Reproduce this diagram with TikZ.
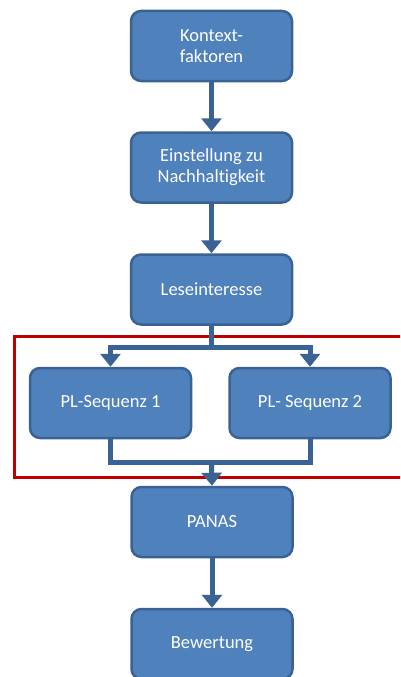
\documentclass[tikz,border=0pt]{standalone}
\usepackage{fontspec}
\setmainfont[Ligatures=NoCommon]{Carlito}
\usetikzlibrary{arrows.meta}
\definecolor{boxfill}{HTML}{4F81BD}
\definecolor{boxedge}{HTML}{3A6294}
\definecolor{groupframe}{HTML}{C00000}
\begin{document}
\begin{tikzpicture}[x=1pt,y=-1pt,
  stage/.style={draw=boxedge, line width=2.5pt, fill=boxfill, rounded corners=10pt,
    text=white, font=\fontsize{18.5}{21}\selectfont, align=center, inner sep=0pt,
    minimum width=161pt, minimum height=70pt},
  link/.style={draw=boxedge, line width=5pt},
  flow/.style={link, -{Triangle[width=20pt,length=13pt]}},
  group/.style={draw=groupframe, line width=3pt}]
\useasboundingbox (0,0) rectangle (400,677);
\clip (0,0) rectangle (400,677);

% frame around the two parallel sequences
\draw[group] (14,336) rectangle (404,477);

% main chain of stages
\node[stage] (kontext) at (211.5,46) {Kontext-\\faktoren};
\node[stage] (einst) at (211.5,167.5) {Einstellung zu\\Nachhaltigkeit};
\node[stage] (lese) at (211.5,289.5) {Leseinteresse};
\node[stage] (pl1) at (110.5,403) {PL-Sequenz 1};
\node[stage] (pl2) at (310,403) {PL- Sequenz 2};
\node[stage] (panas) at (212,522) {PANAS};
\node[stage] (bew) at (212,644) {Bewertung};

\coordinate (fork) at (211.5,347);
\coordinate (merge) at (211.5,462);

\draw[flow] (kontext) -- (einst);
\draw[flow] (einst) -- (lese);
\draw[link] (lese.south) -- (fork);
\draw[flow] (fork) -| (pl1.north);
\draw[flow] (fork) -| (pl2.north);
\draw[link] (pl1.south) |- (merge);
\draw[link] (pl2.south) |- (merge);
\draw[flow] (merge) -- (panas.north);
\draw[flow] (panas) -- (bew);
\end{tikzpicture}
\end{document}
